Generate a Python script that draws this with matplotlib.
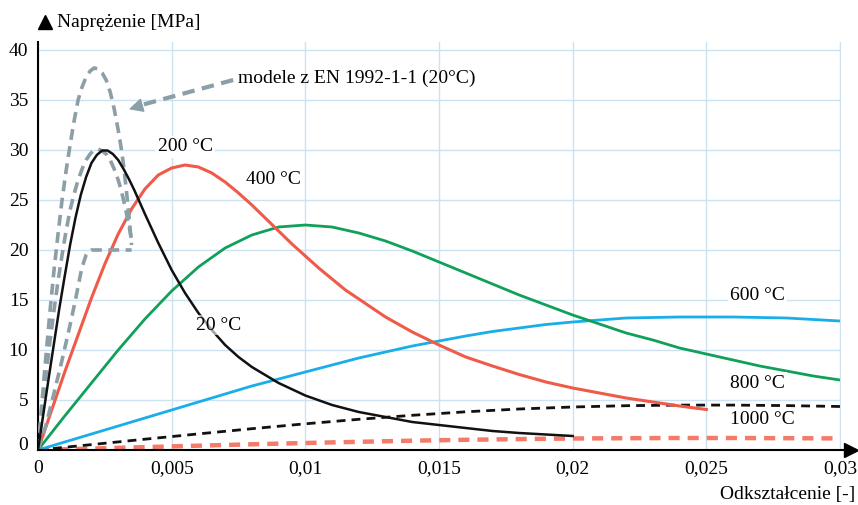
import numpy as np
import matplotlib
matplotlib.use("Agg")
import matplotlib.pyplot as plt
import matplotlib.transforms as mtrans

plt.rcParams['font.family'] = ['Liberation Serif', 'DejaVu Serif']
plt.rcParams['font.size'] = 14

## Data (strain [-], stress [MPa])

# 20 C
eps20 = [0, 0.0002, 0.0004, 0.0006, 0.0008, 0.001, 0.0012, 0.0014, 0.0016, 0.0018, 0.002,
         0.0022, 0.0024, 0.0026, 0.0028, 0.003, 0.0032, 0.0034, 0.0036, 0.0038, 0.004,
         0.0045, 0.005, 0.0055, 0.006, 0.0065, 0.007, 0.0075, 0.008, 0.009, 0.01,
         0.011, 0.012, 0.013, 0.014, 0.015, 0.016, 0.017, 0.018, 0.019, 0.02]
sig20 = [0, 3.6, 7.2, 10.7, 14.2, 17.4, 20.5, 23.2, 25.5, 27.3, 28.7,
         29.5, 29.95, 29.95, 29.6, 29.0, 28.1, 27.1, 26.0, 24.8, 23.6,
         20.7, 18.0, 15.7, 13.7, 12.0, 10.5, 9.3, 8.3, 6.7, 5.45,
         4.5, 3.8, 3.3, 2.8, 2.5, 2.2, 1.9, 1.7, 1.55, 1.4]

# 200 C
eps200 = [0, 0.0005, 0.001, 0.0015, 0.002, 0.0025, 0.003, 0.0035, 0.004, 0.0045, 0.005,
          0.0055, 0.006, 0.0065, 0.007, 0.0075, 0.008, 0.0085, 0.009, 0.0095, 0.01,
          0.0105, 0.011, 0.0115, 0.012, 0.013, 0.014, 0.015, 0.016, 0.017, 0.018,
          0.019, 0.02, 0.021, 0.022, 0.023, 0.024, 0.025]
sig200 = [0, 3.9, 7.8, 11.5, 15.2, 18.6, 21.6, 24.1, 26.1, 27.5, 28.2,
          28.5, 28.3, 27.7, 26.8, 25.7, 24.5, 23.2, 21.9, 20.6, 19.4,
          18.2, 17.1, 16.0, 15.1, 13.3, 11.8, 10.5, 9.3, 8.4, 7.55,
          6.8, 6.2, 5.7, 5.2, 4.8, 4.4, 4.05]

# 400 C
eps400 = [0, 0.001, 0.002, 0.003, 0.004, 0.005, 0.006, 0.007, 0.008, 0.009, 0.01,
          0.011, 0.012, 0.013, 0.014, 0.015, 0.016, 0.017, 0.018, 0.019, 0.02,
          0.021, 0.022, 0.023, 0.024, 0.025, 0.026, 0.027, 0.028, 0.029, 0.03]
sig400 = [0, 3.4, 6.7, 10.0, 13.1, 15.9, 18.3, 20.2, 21.5, 22.3, 22.5,
          22.3, 21.7, 20.9, 19.9, 18.8, 17.7, 16.6, 15.5, 14.5, 13.5,
          12.6, 11.7, 11.0, 10.2, 9.6, 9.0, 8.4, 7.9, 7.4, 7.0]

# 600 C
eps600 = [0, 0.001, 0.002, 0.003, 0.004, 0.005, 0.006, 0.007, 0.008, 0.009, 0.01,
          0.011, 0.012, 0.013, 0.014, 0.015, 0.016, 0.017, 0.018, 0.019, 0.02,
          0.021, 0.022, 0.023, 0.024, 0.025, 0.026, 0.027, 0.028, 0.029, 0.03]
sig600 = [0, 0.8, 1.6, 2.4, 3.2, 4.0, 4.8, 5.6, 6.4, 7.1, 7.8,
          8.5, 9.2, 9.8, 10.4, 10.9, 11.4, 11.85, 12.2, 12.55, 12.8,
          13.0, 13.2, 13.25, 13.3, 13.3, 13.3, 13.25, 13.2, 13.05, 12.9]

# 800 C
eps800 = [0, 0.002, 0.004, 0.006, 0.008, 0.01, 0.012, 0.014, 0.016, 0.018, 0.02,
          0.022, 0.024, 0.026, 0.028, 0.03]
sig800 = [0, 0.54, 1.08, 1.61, 2.13, 2.62, 3.07, 3.47, 3.82, 4.10, 4.30,
          4.43, 4.49, 4.49, 4.44, 4.35]

# 1000 C
eps1000 = eps800
sig1000 = [0, 0.14, 0.29, 0.43, 0.57, 0.70, 0.82, 0.93, 1.02, 1.09, 1.15,
           1.18, 1.20, 1.20, 1.18, 1.16]

# EN 1992-1-1 models (20 C)
epsA = [0, 0.00015, 0.0003, 0.00045, 0.0006, 0.00075, 0.0009, 0.00105, 0.0012, 0.00135, 0.0015,
        0.00165, 0.0018, 0.00195, 0.0021, 0.00225, 0.0024, 0.00255, 0.0027, 0.00285, 0.003,
        0.0031, 0.0032, 0.0033, 0.0034, 0.0035]
sigA = [0, 4.9, 9.5, 13.9, 18.0, 21.6, 25.0, 27.9, 30.5, 32.9, 35.0,
        36.3, 37.3, 37.9, 38.2, 38.1, 37.7, 37.0, 35.8, 34.1, 32.0,
        30.4, 28.5, 26.1, 23.5, 20.5]
epsB = [0, 0.00015, 0.0003, 0.00045, 0.0006, 0.00075, 0.0009, 0.00105, 0.0012, 0.00135, 0.0015,
        0.00165, 0.0018, 0.00195, 0.0021, 0.00225, 0.0024, 0.00255, 0.0027, 0.00285, 0.003,
        0.0031, 0.0032, 0.0033, 0.0034, 0.0035]
sigB = [0, 3.8, 7.5, 10.9, 14.0, 16.9, 19.5, 21.9, 24.0, 25.6, 27.0,
        28.1, 29.0, 29.6, 30.0, 30.1, 29.9, 29.6, 29.0, 28.1, 27.0,
        26.1, 25.0, 23.8, 22.5, 21.0]
epsC = [0, 0.0003, 0.0006, 0.0009, 0.0012, 0.0014, 0.0016, 0.0017, 0.0018, 0.0019, 0.002, 0.0035]
sigC = [0, 2.5, 5.7, 9.0, 12.5, 15.0, 17.7, 18.7, 19.5, 19.85, 20.0, 20.0]

xticks = [0, 0.005, 0.01, 0.015, 0.02, 0.025, 0.03]
xtick_labels = ['0', '0,005', '0,01', '0,015', '0,02', '0,025', '0,03']
yticks = [0, 5, 10, 15, 20, 25, 30, 35, 40]

## Colours
gray = '#8c9ea6'
black = '#111111'
red = '#f05a48'
green = '#10a05a'
blue = '#1aaee8'
red2 = '#f47a6a'
gridc = '#cce2f0'

fig = plt.figure(figsize=(8.58, 5.05), dpi=100)
ax = fig.add_axes([38/858, 1-450/505, 802/858, 408/505])
ax.set_xlim(0, 0.03)
ax.set_ylim(0, 40.8)

# EN models
for e, s in [(epsA, sigA), (epsB, sigB), (epsC, sigC)]:
    ax.plot(e, s, color=gray, lw=2.6, ls=(0, (3, 1.8)), zorder=3)

ax.plot(eps1000, sig1000, color=red2, lw=3.2, ls=(0, (2.5, 1.8)), zorder=2)
ax.plot(eps800, sig800, color=black, lw=2.0, ls=(0, (3.2, 2.2)), zorder=2)
ax.plot(eps600, sig600, color=blue, lw=2.0, zorder=2)
ax.plot(eps400, sig400, color=green, lw=2.0, zorder=2)
ax.plot(eps200, sig200, color=red, lw=2.2, zorder=2)
ax.plot(eps20, sig20, color=black, lw=1.8, zorder=4)

# arrow to the EN models
ax.plot([0.0073, 0.0036], [37.0, 34.3], color=gray, lw=3, ls=(0, (3, 1.8)), zorder=3)
ax.annotate('', xy=(0.0033, 34.0), xytext=(0.0040, 34.55),
            arrowprops=dict(arrowstyle='-|>', color=gray, lw=1, mutation_scale=22), zorder=3)
ax.text(0.0075, 37.2, 'modele z EN 1992-1-1 (20°C)', ha='left', va='center')

box = dict(facecolor='white', edgecolor='none', pad=1.5)
ax.text(0.0055, 30.3, '200 °C', ha='center', va='center', bbox=box, zorder=5)
ax.text(0.0088, 27.0, '400 °C', ha='center', va='center', bbox=box, zorder=5)
ax.text(0.00675, 12.5, '20 °C', ha='center', va='center',
        bbox=dict(facecolor='white', edgecolor='none', pad=1.0, alpha=0.6), zorder=5)
ax.text(0.0269, 15.4, '600 °C', ha='center', va='center', bbox=box, zorder=5)
ax.text(0.0269, 6.7, '800 °C', ha='center', va='center', bbox=box, zorder=5)
ax.text(0.0271, 3.0, '1000 °C', ha='center', va='center', bbox=box, zorder=5)

# grid, ticks
ax.set_xticks(xticks)
ax.set_xticklabels(xtick_labels)
ax.set_yticks(yticks)
ax.set_yticklabels([str(v) for v in yticks])
ax.grid(True, color=gridc, lw=1.0, zorder=0)
ax.set_axisbelow(True)
ax.tick_params(length=0)
ax.tick_params(axis='x', pad=7)
ax.tick_params(axis='y', pad=7)
lbl0 = ax.get_yticklabels()[0]
lbl0.set_transform(lbl0.get_transform() + mtrans.ScaledTranslation(0, 5/72, fig.dpi_scale_trans))

ax.spines['top'].set_visible(False)
ax.spines['right'].set_color(gridc)
ax.spines['bottom'].set_visible(False)
ax.spines['left'].set_color('black')
ax.spines['left'].set_linewidth(1.5)

# axis arrows
ax.plot([0, 1.013], [0, 0], color='black', lw=1.5, transform=ax.transAxes, clip_on=False, zorder=6)
ax.plot([1.014], [0], marker='>', color='black', ms=10, transform=ax.transAxes, clip_on=False, zorder=6)
ax.plot([0.009], [1.049], marker='^', color='black', ms=10, transform=ax.transAxes, clip_on=False)
ax.text(0.024, 1.049, 'Naprężenie [MPa]', transform=ax.transAxes, ha='left', va='center')
ax.text(1.019, -0.11, 'Odkształcenie [-]', transform=ax.transAxes, ha='right', va='center')

fig.savefig('out.png', dpi=100)
